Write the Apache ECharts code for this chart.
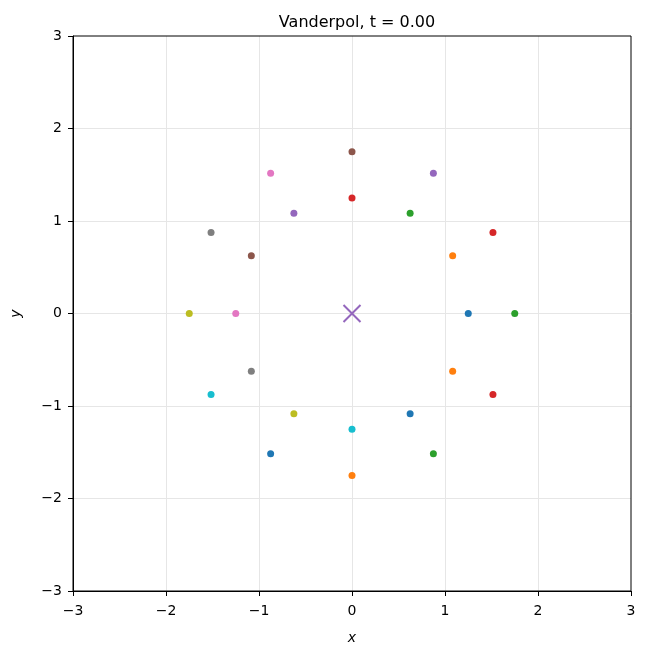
<!DOCTYPE html>
<html><head><meta charset="utf-8">
<script src="https://cdn.jsdelivr.net/npm/echarts@6/dist/echarts.min.js"></script>
<style>html,body{margin:0;padding:0;background:#fff}#c{width:648px;height:657px}</style>
</head><body><div id="c"></div>
<script>
const title = 'Vanderpol, t = 0.00';
const xs = [1.25, 1.0825, 0.625, 0, -0.625, -1.0825, -1.25, -1.0825, -0.625, 0, 0.625, 1.0825,
            1.75, 1.5155, 0.875, 0, -0.875, -1.5155, -1.75, -1.5155, -0.875, 0, 0.875, 1.5155];
const ys = [0, 0.625, 1.0825, 1.25, 1.0825, 0.625, 0, -0.625, -1.0825, -1.25, -1.0825, -0.625,
            0, 0.875, 1.5155, 1.75, 1.5155, 0.875, 0, -0.875, -1.5155, -1.75, -1.5155, -0.875];
const center = [[0, 0]];
const palette = ['#1f77b4','#ff7f0e','#2ca02c','#d62728','#9467bd','#8c564b','#e377c2','#7f7f7f','#bcbd22','#17becf'];
const ticks = [-3, -2, -1, 0, 1, 2, 3];

const fmt = v => (v < 0 ? '\u2212' + Math.abs(v) : String(v));
const pts = xs.map((x, i) => ({value: [x, ys[i]], itemStyle: {color: palette[i % palette.length], opacity: 1}}));
const font = 'DejaVu Sans';
const axisCommon = {
  min: ticks[0], max: ticks[ticks.length - 1], interval: 1,
  axisLine: {show: true, onZero: false, lineStyle: {color: '#000', width: 1}},
  axisTick: {show: true, inside: false, length: 5, lineStyle: {color: '#000'}},
  axisLabel: {color: '#000', fontSize: 14, fontFamily: font, formatter: fmt},
  splitLine: {show: true, showMinLine: false, showMaxLine: false, lineStyle: {color: '#e6e6e6', width: 1}},
  nameLocation: 'middle',
  nameTextStyle: {color: '#000', fontSize: 14, fontFamily: font, fontStyle: 'italic'}
};
const chart = echarts.init(document.getElementById('c'), null, {renderer: 'canvas'});
chart.setOption({
  animation: false,
  backgroundColor: '#fff',
  title: {text: title, left: 352, top: 10, textAlign: 'center',
    textStyle: {fontFamily: font, fontSize: 16, fontWeight: 'normal', color: '#000'}},
  grid: {left: 73, right: 17, top: 36, bottom: 66, show: true, borderColor: '#000', borderWidth: 1, backgroundColor: 'transparent', z: 10},
  xAxis: Object.assign({}, axisCommon, {type: 'value', name: 'x', nameGap: 40,
    axisLabel: Object.assign({}, axisCommon.axisLabel, {margin: 13})}),
  yAxis: Object.assign({}, axisCommon, {type: 'value', name: 'y', nameGap: 50,
    axisLabel: Object.assign({}, axisCommon.axisLabel, {margin: 11})}),
  series: [
    {type: 'scatter', data: pts, symbol: 'circle', symbolSize: 7, z: 3, itemStyle: {opacity: 1}},
    {type: 'scatter', data: center, symbol: 'path://M0,0L10,10M10,0L0,10', symbolSize: 17, z: 4,
      itemStyle: {color: 'none', borderColor: '#9467bd', borderWidth: 2, opacity: 1}}
  ]
});
</script></body></html>
